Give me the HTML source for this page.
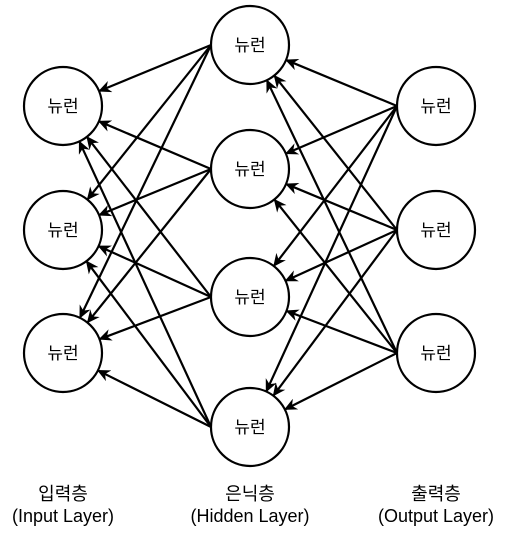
<!DOCTYPE html>
<html><head><meta charset="utf-8"><style>
html,body{margin:0;padding:0;background:#fff;}
svg{display:block;}
text{font-family:"Liberation Sans","Noto Sans CJK KR",sans-serif;fill:#000;}
</style></head><body>
<svg id="s" width="512" height="535" viewBox="0 0 512 535" xmlns="http://www.w3.org/2000/svg">
<defs><marker id="a" markerWidth="14" markerHeight="12" refX="12" refY="6" orient="auto" markerUnits="userSpaceOnUse"><path d="M0,0 L13,6 L0,12 L4,6 Z" fill="#000"/></marker></defs>
<g id="lines" stroke="#000" stroke-width="2.2" fill="none"></g>
<g stroke="#000" stroke-width="2.2" fill="#fff">
<circle cx="63" cy="106" r="39"/><circle cx="63" cy="230" r="39"/><circle cx="63" cy="353" r="39"/>
<circle cx="250" cy="45" r="39"/><circle cx="250" cy="169" r="39"/><circle cx="250" cy="297" r="39"/><circle cx="250" cy="427" r="39"/>
<circle cx="436" cy="106" r="39"/><circle cx="436" cy="230" r="39"/><circle cx="436" cy="353" r="39"/>
</g>
<g font-size="17" text-anchor="middle">
<text x="63" y="112">뉴런</text><text x="63" y="236">뉴런</text><text x="63" y="359">뉴런</text>
<text x="250" y="51">뉴런</text><text x="250" y="175">뉴런</text><text x="250" y="303">뉴런</text><text x="250" y="433">뉴런</text>
<text x="436" y="112">뉴런</text><text x="436" y="236">뉴런</text><text x="436" y="359">뉴런</text>
</g>
<g font-size="18" text-anchor="middle">
<text x="63" y="500">입력층</text><text x="63" y="522">(Input Layer)</text>
<text x="250" y="500">은닉층</text><text x="250" y="522">(Hidden Layer)</text>
<text x="436" y="500">출력층</text><text x="436" y="522">(Output Layer)</text>
</g>
</svg>
<script>
var I=[[63,106],[63,230],[63,353]],H=[[250,45],[250,169],[250,297],[250,427]],O=[[436,106],[436,230],[436,353]],r=39;
var g=document.getElementById('lines'),ns="http://www.w3.org/2000/svg";
function L(sx,sy,t){var dx=t[0]-sx,dy=t[1]-sy,d=Math.sqrt(dx*dx+dy*dy);var ex=t[0]-dx/d*r,ey=t[1]-dy/d*r;
var l=document.createElementNS(ns,'line');l.setAttribute('x1',sx);l.setAttribute('y1',sy);l.setAttribute('x2',ex);l.setAttribute('y2',ey);l.setAttribute('marker-end','url(#a)');g.appendChild(l);}
H.forEach(function(h){I.forEach(function(i){L(h[0]-r,h[1],i);});});
O.forEach(function(o){H.forEach(function(h){L(o[0]-r,o[1],h);});});
</script>
</body></html>
